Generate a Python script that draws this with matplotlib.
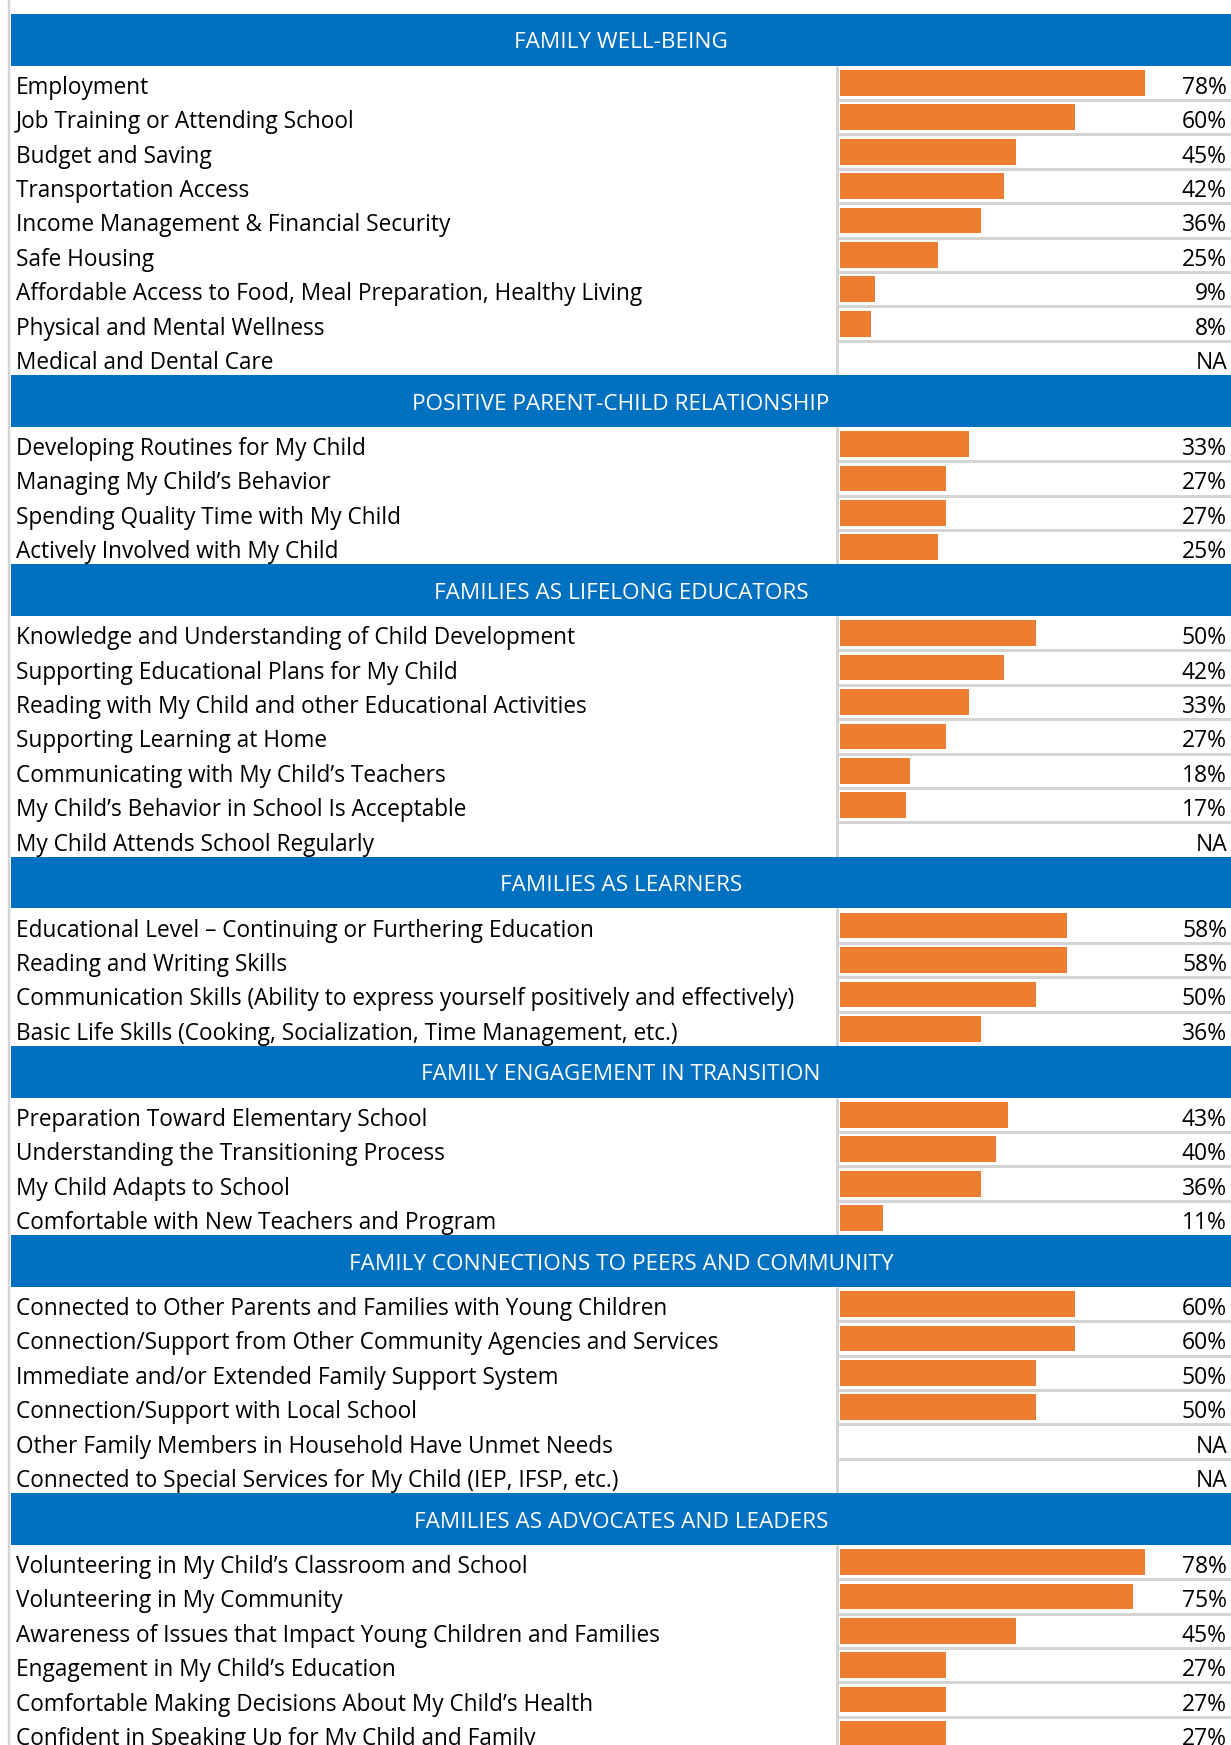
import matplotlib.pyplot as plt
from matplotlib.patches import Rectangle

# section titles
sections = [
    "FAMILY WELL-BEING",
    "POSITIVE PARENT-CHILD RELATIONSHIP",
    "FAMILIES AS LIFELONG EDUCATORS",
    "FAMILIES AS LEARNERS",
    "FAMILY ENGAGEMENT IN TRANSITION",
    "FAMILY CONNECTIONS TO PEERS AND COMMUNITY",
    "FAMILIES AS ADVOCATES AND LEADERS",
]

# item labels per section
items = [
    ["Employment", "Job Training or Attending School", "Budget and Saving",
     "Transportation Access", "Income Management & Financial Security",
     "Safe Housing", "Affordable Access to Food, Meal Preparation, Healthy Living",
     "Physical and Mental Wellness", "Medical and Dental Care"],
    ["Developing Routines for My Child", "Managing My Child\u2019s Behavior",
     "Spending Quality Time with My Child", "Actively Involved with My Child"],
    ["Knowledge and Understanding of Child Development",
     "Supporting Educational Plans for My Child",
     "Reading with My Child and other Educational Activities",
     "Supporting Learning at Home", "Communicating with My Child\u2019s Teachers",
     "My Child\u2019s Behavior in School Is Acceptable",
     "My Child Attends School Regularly"],
    ["Educational Level \u2013 Continuing or Furthering Education",
     "Reading and Writing Skills",
     "Communication Skills (Ability to express yourself positively and effectively)",
     "Basic Life Skills (Cooking, Socialization, Time Management, etc.)"],
    ["Preparation Toward Elementary School", "Understanding the Transitioning Process",
     "My Child Adapts to School", "Comfortable with New Teachers and Program"],
    ["Connected to Other Parents and Families with Young Children",
     "Connection/Support from Other Community Agencies and Services",
     "Immediate and/or Extended Family Support System",
     "Connection/Support with Local School",
     "Other Family Members in Household Have Unmet Needs",
     "Connected to Special Services for My Child (IEP, IFSP, etc.)"],
    ["Volunteering in My Child\u2019s Classroom and School", "Volunteering in My Community",
     "Awareness of Issues that Impact Young Children and Families",
     "Engagement in My Child\u2019s Education",
     "Comfortable Making Decisions About My Child\u2019s Health",
     "Confident in Speaking Up for My Child and Family"],
]

# percentages (None = NA)
values = [
    [78, 60, 45, 42, 36, 25, 9, 8, None],
    [33, 27, 27, 25],
    [50, 42, 33, 27, 18, 17, None],
    [58, 58, 50, 36],
    [43, 40, 36, 11],
    [60, 60, 50, 50, None, None],
    [78, 75, 45, 27, 27, 27],
]

BLUE = "#0070C0"
ORANGE = "#ED7D31"
GRAY = "#D4D4D4"
FONT = ["Open Sans", "DejaVu Sans"]

W, H = 1231, 1745
ROW = 34.4          # px per row unit
TOP = 14            # px of white above the first header
HEAD = 1.5          # header height in row units
BAR_X0 = 840        # px where the bar column starts

fig = plt.figure(figsize=(W / 100, H / 100), dpi=100)
ax = fig.add_axes([0, 0, 1, 1])
ax.set_xlim(0, W)
ax.set_ylim((H - TOP) / ROW, -TOP / ROW)
ax.axis("off")

axb = fig.add_axes([BAR_X0 / W, 0, (W - BAR_X0) / W, 1], sharey=ax)
axb.set_xlim(0, 100)
axb.axis("off")
axb.patch.set_alpha(0)

lw_px = 72 / 100
ax.vlines(9, -TOP / ROW, (H - TOP) / ROW, color=GRAY, lw=2.5 * lw_px)

y = 0.0
bar_y, bar_v = [], []
for title, names, vals in zip(sections, items, values):
    ax.add_patch(Rectangle((11, y), W - 11, HEAD, color=BLUE, lw=0, zorder=3))
    ax.text((11 + W) / 2, y + 1.0, title, ha="center", va="baseline",
            color="white", fontsize=16.2, family=FONT, zorder=4)
    y += HEAD
    ax.vlines(837, y, y + len(names), color=GRAY, lw=3 * lw_px, zorder=2)
    for i, (name, v) in enumerate(zip(names, vals)):
        if i > 0:
            ax.hlines(y, 837, W, color=GRAY, lw=3 * lw_px, zorder=2)
        ax.text(16, y + 0.82, name, ha="left", va="baseline",
                fontsize=16.3, family=FONT, color="black")
        ax.text(1227, y + 0.82, "NA" if v is None else f"{v}%", ha="right",
                va="baseline", fontsize=16.5, family=FONT, color="black")
        if v is not None:
            bar_y.append(y + 0.5)
            bar_v.append(v)
        y += 1

axb.barh(bar_y, bar_v, height=0.75, left=0, color=ORANGE, zorder=3)

fig.savefig("out.png", dpi=100)
